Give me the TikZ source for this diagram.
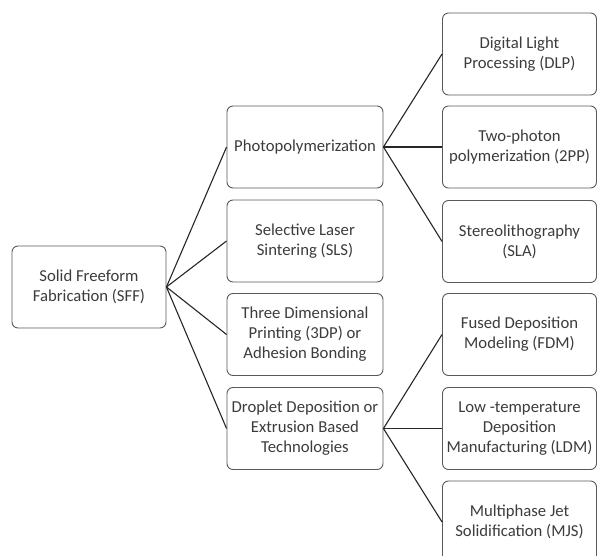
\documentclass[tikz,border=0pt]{standalone}
\usepackage{fontspec}
\setmainfont{Carlito}
\definecolor{txt}{RGB}{60,60,60}
\definecolor{bord}{RGB}{90,90,90}
\begin{document}
\begin{tikzpicture}[x=1pt,y=-1pt,
  box/.style={draw=bord,line width=0.9pt,rounded corners=6pt,fill=white,
    minimum width=#1,minimum height=82pt,inner sep=0pt,align=center,
    text=txt,font=\fontsize{16.7}{20}\selectfont},
  box/.default=156pt,
  conn/.style={line width=1.1pt,black!85}]
\useasboundingbox (0,0) rectangle (597,556);
\node[box=154pt] (sff) at (89,287) {Solid Freeform\\Fabrication (SFF)};
\node[box] (photo) at (305,147) {Photopolymerization};
\node[box] (sls) at (305,241) {Selective Laser\\Sintering (SLS)};
\node[box] (tdp) at (305,334.5) {Three Dimensional\\Printing (3DP) or\\Adhesion Bonding};
\node[box] (drop) at (305,428.5) {Droplet Deposition or\\Extrusion Based\\Technologies};
\node[box=154pt] (dlp) at (519.5,54) {Digital Light\\Processing (DLP)};
\node[box=154pt] (tpp) at (519.5,147) {Two-photon\\polymerization (2PP)};
\node[box=154pt] (sla) at (519.5,241.5) {Stereolithography\\(SLA)};
\node[box=154pt] (fdm) at (519.5,334.5) {Fused Deposition\\Modeling (FDM)};
\node[box=154pt] (ldm) at (519.5,428.5) {Low -temperature\\Deposition\\Manufacturing (LDM)};
\node[box=154pt] (mjs) at (519.5,522) {Multiphase Jet\\Solidification (MJS)};
\foreach \t in {photo,sls,tdp,drop}
  \draw[conn] (sff.east) -- (\t.west);
\foreach \t in {dlp,tpp,sla}
  \draw[conn] (photo.east) -- (\t.west);
\foreach \t in {fdm,ldm,mjs}
  \draw[conn] (drop.east) -- (\t.west);
\end{tikzpicture}
\end{document}
